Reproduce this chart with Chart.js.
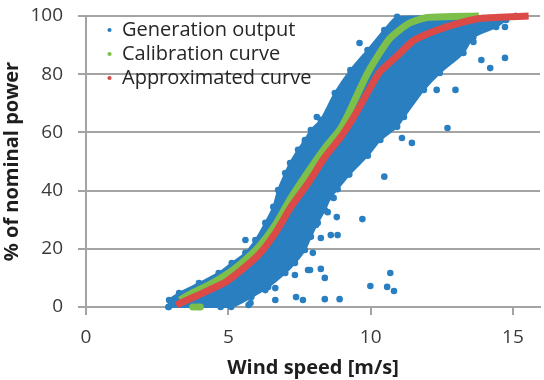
<!DOCTYPE html>
<html>
<head>
<meta charset="utf-8">
<script src="https://cdn.jsdelivr.net/npm/chart.js@4/dist/chart.umd.min.js"></script>
<style>
  html, body { margin: 0; padding: 0; background: #fff; }
  #wrap { width: 544px; height: 380px; }
</style>
</head>
<body>
<div id="wrap"><canvas id="chart"></canvas></div>
<script>
// values: [wind speed m/s, % of nominal power]
const approximatedCurve = [[3.17,0.7],[3.72,3.1],[4.32,5.8],[4.91,8.6],[5.46,12.7],[6.06,17.9],[6.65,25.4],[7.2,34.4],[7.8,42.5],[8.39,51.5],[8.95,58.4],[9.45,66],[10.3,80.5],[10.9,86],[11.5,91.5],[12.3,95],[13.2,97.8],[14.0,99.3],[15.55,100]];
const calibrationCurve = [[3.3,2.4],[3.72,4.8],[4.32,7.6],[4.91,11],[5.46,15.1],[6.06,20.6],[6.65,28.2],[7.2,37.5],[7.8,46.4],[8.39,54.6],[8.91,60.8],[9.15,65],[9.9,80.5],[10.65,92],[11.35,97.5],[12.0,99.5],[13.8,100]];
const calibrationZero = [[3.75,0],[3.85,0],[3.95,0],[4.02,0]];
// edges of the dense generation-output cloud
const outputUpperEdge = [[2.9,0],[2.92,2.4],[3.27,4.8],[3.97,8.2],[4.66,11.7],[5.12,15.1],[5.6,18.6],[5.95,23],[6.3,28.9],[6.58,34.4],[6.75,40.2],[7.0,46],[7.17,49.5],[7.45,54],[7.69,57.4],[7.9,60.8],[8.25,64.3],[8.74,73.5],[9.29,81.4],[9.89,88.3],[10.48,95.2],[10.93,99.7],[15.1,100]];
const outputLowerEdge = [[2.9,0],[5.1,0],[5.81,3.4],[6.4,6.9],[7.0,11.7],[7.34,15.1],[7.69,19.6],[7.9,24.1],[8.14,28.9],[8.39,33.3],[8.6,37.8],[8.84,40.5],[9.25,45.5],[9.9,52],[10.34,57.4],[10.93,61.9],[11.17,65.3],[11.87,74.6],[12.43,80.4],[13.26,87.3],[13.61,92.8],[14.41,96.2],[14.76,98.6],[15.1,100]];
// isolated generation-output points
const outputOutliers = [[9.61,90.7],[8.11,65.3],[10.48,44.8],[11.1,58.1],[11.45,56.4],[12.32,74.6],[12.98,74.6],[12.7,61.5],[13.89,84.9],[14.2,82.1],[14.72,85.6],[14.72,96.2],[13.61,91.1],[7.97,18.6],[8.25,23.7],[8.6,24.7],[8.84,24.7],[9.71,30.2],[7.8,12.7],[7.34,11],[8.25,13.1],[8.39,10],[9.99,7.2],[10.69,11.7],[10.58,6.9],[10.82,5.5],[7.38,3.4],[7.62,2.4],[8.39,2.7],[8.91,2.7],[8.7,37.5],[8.49,32.6],[8.81,30.9],[5.6,23],[6.3,5.8],[6.65,6.5],[6.65,2.4],[5.71,0.7],[5.78,1.4],[4.73,0],[7.69,56.4],[8.08,28.2],[7.87,12.7]];

const xTicks = [0, 5, 10, 15];
const yTicks = [0, 20, 40, 60, 80, 100];

const blue = '#2a7fc1';
const green = '#7cbf4a';
const red = '#dc4a48';
const gridGray = '#a3a3a3';
const font = '"Open Sans", "Noto Sans", sans-serif';

const toPts = (arr) => arr.map(([x, y]) => ({ x, y }));

// nudge the in-plot legend to where the reference has it
const legendShift = {
  id: 'legendShift',
  beforeDraw(chart) {
    const lg = chart.legend;
    if (!lg) return;
    lg.left = chart.chartArea.left + 17;
    lg.top = chart.chartArea.top;
  }
};

new Chart(document.getElementById('chart'), {
  type: 'line',
  plugins: [legendShift],
  data: {
    datasets: [
      {
        label: 'Generation output', data: toPts(outputOutliers), showLine: false,
        pointRadius: 3.3, pointHoverRadius: 3.3, pointBackgroundColor: blue, pointBorderWidth: 0,
        backgroundColor: blue, borderColor: blue, order: 3, clip: false
      },
      {
        label: 'Calibration curve', data: toPts(calibrationCurve), borderColor: green, backgroundColor: green,
        borderWidth: 7, pointRadius: 0, tension: 0.2, fill: false, order: 2, clip: false
      },
      {
        label: 'Approximated curve', data: toPts(approximatedCurve), borderColor: red, backgroundColor: red,
        borderWidth: 7, pointRadius: 0, tension: 0.2, fill: false, order: 1, clip: false
      },
      {
        label: 'calib-zero', data: toPts(calibrationZero), showLine: false,
        pointRadius: 3.5, pointBackgroundColor: green, pointBorderWidth: 0, order: 2, clip: false
      },
      {
        label: 'band-upper', data: toPts(outputUpperEdge), borderColor: blue, borderWidth: 2,
        pointRadius: 3.3, pointBackgroundColor: blue, pointBorderWidth: 0,
        backgroundColor: blue, fill: '+1', tension: 0.2, order: 4, clip: false
      },
      {
        label: 'band-lower', data: toPts(outputLowerEdge), borderColor: blue, borderWidth: 2,
        pointRadius: 3.3, pointBackgroundColor: blue, pointBorderWidth: 0,
        backgroundColor: blue, fill: false, tension: 0.2, order: 5, clip: false
      }
    ]
  },
  options: {
    responsive: true,
    maintainAspectRatio: false,
    animation: false,
    layout: { padding: { top: 16, right: 0, bottom: 0, left: 0 } },
    plugins: {
      tooltip: { enabled: false },
      legend: {
        position: 'chartArea',
        align: 'start',
        labels: {
          usePointStyle: true,
          pointStyle: 'circle',
          boxWidth: 5,
          boxHeight: 3,
          padding: 4,
          color: '#262626',
          font: { family: font, size: 20 },
          filter: (item) => item.datasetIndex < 3,
          sort: (a, b) => a.datasetIndex - b.datasetIndex,
          generateLabels: (chart) => Chart.defaults.plugins.legend.labels.generateLabels(chart)
            .map((item) => ({ ...item, lineWidth: 0, strokeStyle: 'rgba(0,0,0,0)' }))
        }
      }
    },
    scales: {
      x: {
        type: 'linear',
        min: 0,
        max: 15.95,
        afterFit: (s) => { s.height = 73; s.paddingLeft = 0; s.paddingRight = 0; },
        afterBuildTicks: (s) => { s.ticks = xTicks.map((v) => ({ value: v })); },
        grid: { drawOnChartArea: false, color: gridGray, lineWidth: 2, tickLength: 8 },
        border: { color: gridGray, width: 2 },
        ticks: { color: '#3a3a3a', font: { family: font, size: 19 }, padding: 11, maxRotation: 0 },
        title: {
          display: true, text: 'Wind speed [m/s]', color: '#1e1e1e',
          font: { family: font, size: 20, weight: 'bold' }, padding: { top: 0, bottom: 0 }
        }
      },
      y: {
        min: 0,
        max: 100,
        afterFit: (s) => { s.width = 86; s.paddingTop = 0; s.paddingBottom = 0; },
        afterBuildTicks: (s) => { s.ticks = yTicks.map((v) => ({ value: v })); },
        grid: { color: gridGray, lineWidth: 2, tickLength: 8 },
        border: { color: gridGray, width: 2 },
        ticks: { color: '#3a3a3a', font: { family: font, size: 19 }, padding: 15 },
        title: {
          display: true, text: '% of nominal power', color: '#1e1e1e',
          font: { family: font, size: 20, weight: 'bold' }, padding: { top: 0, bottom: 0 }
        }
      }
    }
  }
});
</script>
</body>
</html>
